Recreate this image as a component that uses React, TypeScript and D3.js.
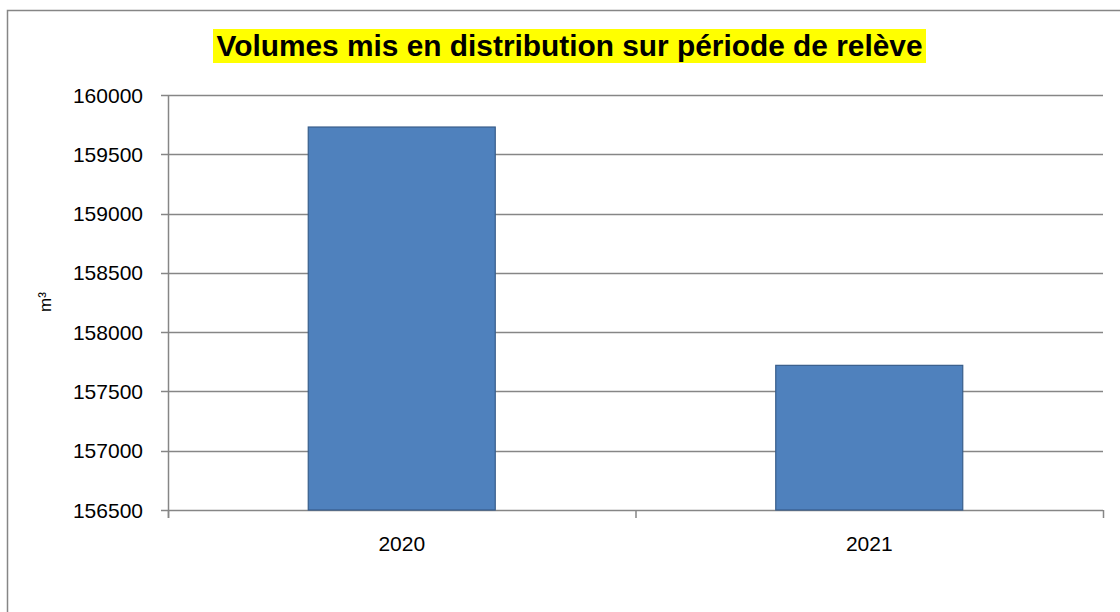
import React from "react";
import * as d3 from "d3";

const categories = ["2020", "2021"];
const values = [159730, 157720];
const yTicks = [156500, 157000, 157500, 158000, 158500, 159000, 159500, 160000];
const title = "Volumes mis en distribution sur période de relève";
const yLabel = "m³";

export default function App() {
  const left = 168, right = 1103, top = 95, bottom = 510;
  const x = d3.scaleBand<string>().domain(categories).range([left, right]).paddingInner(0.6).paddingOuter(0.3);
  const band = d3.scaleBand<string>().domain(categories).range([left, right]);
  const y = d3.scaleLinear().domain([156500, 160000]).range([bottom, top]);
  const grid = "#868686";
  const font = "'Liberation Sans', Arial, sans-serif";
  return (
    <svg width={1120} height={612} style={{ position: "absolute", left: 0, top: 0 }}>
      <rect x={0} y={0} width={1120} height={612} fill="#fff" />
      <rect x={7.5} y={10.5} width={1300} height={800} fill="none" stroke={grid} strokeWidth={1.5} />
      <rect x={213} y={29} width={713} height={34} fill="#ffff00" />
      <text x={569.5} y={56} textAnchor="middle" fontFamily={font} fontWeight="bold" fontSize={29.5} textLength={706} lengthAdjust="spacingAndGlyphs" fill="#000">{title}</text>
      {yTicks.map((t) => (
        <g key={t}>
          <line x1={161} x2={right} y1={Math.round(y(t)) + 0.5} y2={Math.round(y(t)) + 0.5} stroke={grid} strokeWidth={1.5} />
          <text x={143} y={y(t) + 7.5} textAnchor="end" fontFamily={font} fontSize={21} fill="#000">{t}</text>
        </g>
      ))}
      <line x1={left + 0.5} x2={left + 0.5} y1={top} y2={518} stroke={grid} strokeWidth={1.5} />
      {[...categories.map((c) => band(c)!), right].map((px, i) => (
        <line key={i} x1={px + 0.5} x2={px + 0.5} y1={bottom} y2={518} stroke={grid} strokeWidth={1.5} />
      ))}
      {categories.map((c, i) => (
        <g key={c}>
          <rect x={x(c)!} y={y(values[i])} width={x.bandwidth()} height={bottom - y(values[i])} fill="#4F81BD" stroke="#385D8A" strokeWidth={1.2} />
          <text x={band(c)! + band.bandwidth() / 2} y={551} textAnchor="middle" fontFamily={font} fontSize={21} fill="#000">{c}</text>
        </g>
      ))}
      <text transform="translate(51,302) rotate(-90)" textAnchor="middle" fontFamily={font} fontSize={17} fill="#000">{yLabel}</text>
    </svg>
  );
}
